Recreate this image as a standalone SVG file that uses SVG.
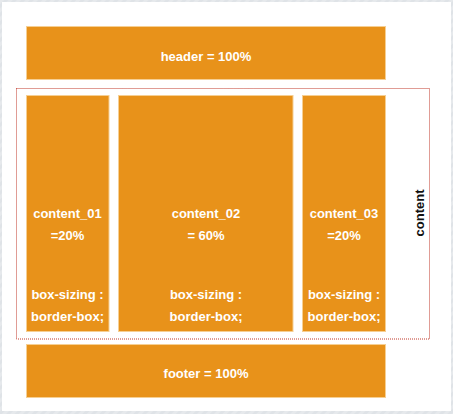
<svg xmlns="http://www.w3.org/2000/svg" width="453" height="414" viewBox="0 0 453 414">
<style>
.box{fill:#e8921a;stroke:#f6cf93;stroke-width:1}
.t{font-family:"Liberation Sans",Arial,sans-serif;font-weight:bold;font-size:13px;fill:#ffffff;text-anchor:middle}
.lbl{font-family:"Liberation Sans",Arial,sans-serif;font-weight:bold;font-size:13px;fill:#111111;text-anchor:middle}
</style>
<defs>
<pattern id="bg" width="6" height="6" patternUnits="userSpaceOnUse" patternTransform="rotate(45)">
<rect width="6" height="6" fill="#dfe3e7"/>
<rect width="3" height="6" fill="#e6e9ec"/>
</pattern>
</defs>
<rect x="0" y="0" width="453" height="414" fill="url(#bg)"/>
<rect x="2" y="2" width="449" height="409" fill="#ffffff"/>
<g id="connectors"></g>
<g id="content">
<rect x="16.5" y="88.5" width="413" height="250.5" fill="none" stroke="#c0392b" stroke-width="1" stroke-dasharray="1,1"/>
<text class="lbl" transform="translate(424,213) rotate(-90)">content</text>
</g>
<g id="header">
<rect class="box" x="26.5" y="26.5" width="359" height="53"/>
<text class="t" x="206" y="61">header = 100%</text>
</g>
<g id="content_01">
<rect class="box" x="26.5" y="95.5" width="82.5" height="236"/>
<text class="t" x="67.5" y="218">content_01</text>
<text class="t" x="67.5" y="240">=20%</text>
<text class="t" x="67.5" y="299">box-sizing :</text>
<text class="t" x="67.5" y="321">border-box;</text>
</g>
<g id="content_02">
<rect class="box" x="118.5" y="95.5" width="174.5" height="236"/>
<text class="t" x="206" y="218">content_02</text>
<text class="t" x="206" y="240">= 60%</text>
<text class="t" x="206" y="299">box-sizing :</text>
<text class="t" x="206" y="321">border-box;</text>
</g>
<g id="content_03">
<rect class="box" x="302.5" y="95.5" width="83" height="236"/>
<text class="t" x="344" y="218">content_03</text>
<text class="t" x="344" y="240">=20%</text>
<text class="t" x="344" y="299">box-sizing :</text>
<text class="t" x="344" y="321">border-box;</text>
</g>
<g id="footer">
<rect class="box" x="26.5" y="344.5" width="359" height="53"/>
<text class="t" x="206" y="378">footer = 100%</text>
</g>
</svg>
